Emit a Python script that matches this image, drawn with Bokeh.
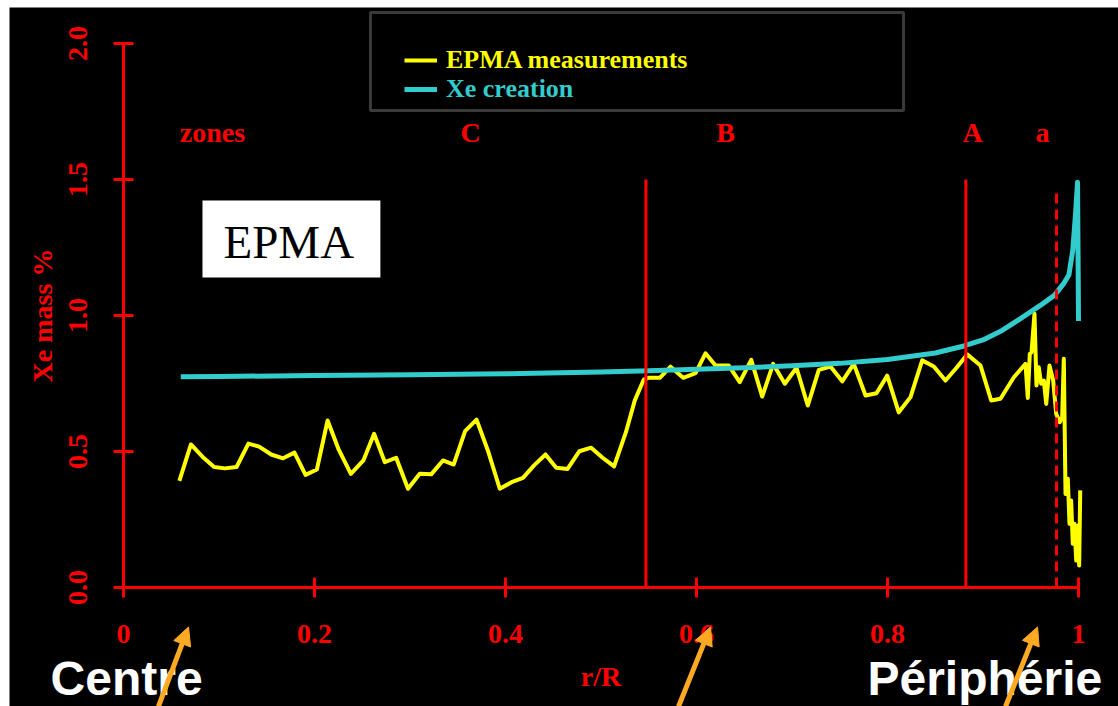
from bokeh.plotting import figure
from bokeh.models import (LinearAxis, FixedTicker, PrintfTickFormatter, Legend, LegendItem,
                          Label, BoxAnnotation, Arrow, NormalHead, Range1d)
from bokeh.embed import file_html
from bokeh.resources import INLINE

# ---- data ----
r_epma = [0.0585, 0.0706, 0.0829, 0.0949, 0.1061, 0.1184, 0.1308, 0.1420, 0.1547, 0.1670,
          0.1790, 0.1906, 0.2025, 0.2137, 0.2250, 0.2381, 0.2512, 0.2624, 0.2736, 0.2855,
          0.2979, 0.3102, 0.3222, 0.3345, 0.3457, 0.3577, 0.3697, 0.3821, 0.3940, 0.4064,
          0.4183, 0.4299, 0.4419, 0.4531, 0.4650, 0.4774, 0.4897, 0.5017, 0.5137, 0.5261,
          0.5354, 0.5447, 0.5496, 0.5616, 0.5728, 0.5861, 0.5990, 0.6094, 0.6199, 0.6338,
          0.6453, 0.6573, 0.6688, 0.6803, 0.6925, 0.7047, 0.7165, 0.7281, 0.7403, 0.7526,
          0.7647, 0.7770, 0.7885, 0.7997, 0.8118, 0.8241, 0.8363, 0.8485, 0.8607, 0.8723,
          0.8834, 0.8974, 0.9086, 0.9183, 0.9323, 0.9445, 0.9469, 0.9490, 0.9508, 0.9539,
          0.9560, 0.9584, 0.9609, 0.9637, 0.9662, 0.9696, 0.9735, 0.9766, 0.9804, 0.9829,
          0.9846, 0.9864, 0.9888, 0.9906, 0.9923, 0.9940, 0.9958, 0.9976, 0.9993, 1.0007,
          1.0018]
xe_epma = [0.392, 0.526, 0.480, 0.443, 0.438, 0.443, 0.529, 0.518, 0.489, 0.475,
           0.496, 0.414, 0.434, 0.614, 0.510, 0.418, 0.467, 0.565, 0.461, 0.477,
           0.363, 0.418, 0.416, 0.467, 0.452, 0.575, 0.617, 0.498, 0.363, 0.387,
           0.403, 0.449, 0.489, 0.440, 0.436, 0.501, 0.514, 0.477, 0.445, 0.571,
           0.688, 0.764, 0.771, 0.771, 0.812, 0.771, 0.788, 0.861, 0.816, 0.816,
           0.755, 0.837, 0.702, 0.822, 0.749, 0.808, 0.669, 0.800, 0.8125, 0.758,
           0.822, 0.706, 0.714, 0.779, 0.644, 0.700, 0.835, 0.8125, 0.761, 0.808,
           0.857, 0.816, 0.6875, 0.694, 0.773, 0.822, 0.697, 0.859, 0.865, 1.006,
           0.743, 0.810, 0.749, 0.761, 0.675, 0.816, 0.761, 0.639, 0.608, 0.626,
           0.841, 0.344, 0.400, 0.234, 0.320, 0.161, 0.234, 0.099, 0.228, 0.081,
           0.357]

r_calc = [0.06, 0.1, 0.2, 0.3, 0.4, 0.5, 0.55, 0.6, 0.65, 0.7, 0.75, 0.8, 0.85, 0.88,
          0.9, 0.92, 0.94, 0.96, 0.975, 0.985, 0.99, 0.994, 0.997, 0.999, 1.0]
xe_calc = [0.775, 0.776, 0.779, 0.782, 0.786, 0.792, 0.797, 0.802, 0.808, 0.815, 0.824,
           0.838, 0.862, 0.888, 0.91, 0.945, 0.99, 1.037, 1.075, 1.12, 1.15, 1.24, 1.38,
           1.49, 0.98]

zone_bounds_solid = [0.547, 0.882]
zone_bound_dashed = [0.977]
zone_names = ["zones", "C", "B", "A", "a"]
zone_name_x = [0.0932, 0.3634, 0.6304, 0.889, 0.9623]

x_ticks = [0, 0.2, 0.4, 0.6, 0.8, 1]
x_tick_labels = ["0", "0.2", "0.4", "0.6", "0.8", "1"]
y_ticks = [0, 0.5, 1.0, 1.5, 2.0]

RED = "#FF0000"
SERIF = "Liberation Serif"

p = figure(width=1118, height=706, output_backend="svg", toolbar_location=None,
           x_range=Range1d(-0.11937, 1.04188), y_range=Range1d(-0.4375, 2.13235),
           x_axis_type=None, y_axis_type=None,
           min_border_left=9, min_border_top=7, min_border_right=0, min_border_bottom=0,
           background_fill_color="black", border_fill_color="white")
p.outline_line_color = None
p.grid.visible = False

# axes at fixed data location
xaxis = LinearAxis(fixed_location=0, bounds=(0, 1), ticker=FixedTicker(ticks=x_ticks),
                   major_label_overrides={t: l for t, l in zip(x_ticks, x_tick_labels)},
                   axis_label="r/R")
yaxis = LinearAxis(fixed_location=0, bounds=(0, 2), ticker=FixedTicker(ticks=y_ticks),
                   formatter=PrintfTickFormatter(format="%.1f"), axis_label="Xe mass %",
                   major_label_orientation="parallel")
for ax in (xaxis, yaxis):
    ax.axis_line_color = RED
    ax.axis_line_width = 3
    ax.major_tick_line_color = RED
    ax.major_tick_line_width = 3
    ax.major_tick_in = 10
    ax.major_tick_out = 10
    ax.minor_tick_line_color = None
    ax.major_label_text_color = RED
    ax.major_label_text_font = SERIF
    ax.major_label_text_font_style = "bold"
    ax.major_label_text_font_size = "28px"
    ax.axis_label_text_color = RED
    ax.axis_label_text_font = SERIF
    ax.axis_label_text_font_style = "bold"
    ax.axis_label_text_font_size = "28px"
xaxis.major_label_standoff = 28
xaxis.axis_label_standoff = 14
yaxis.major_label_standoff = 26
yaxis.axis_label_standoff = 9
p.add_layout(xaxis, "below")
p.add_layout(yaxis, "left")

# data lines
yl = p.line(r_epma, xe_epma, line_color="#FFFF00", line_width=4, line_join="round")
cl = p.line(r_calc, xe_calc, line_color="#33CCCC", line_width=5, line_join="round")

# zone boundaries
p.segment(x0=zone_bounds_solid, x1=zone_bounds_solid, y0=[0] * 2, y1=[1.5] * 2,
          line_color=RED, line_width=3)
p.segment(x0=zone_bound_dashed, x1=zone_bound_dashed, y0=[0], y1=[1.467],
          line_color=RED, line_width=3, line_dash="10 6")

for name, zx in zip(zone_names, zone_name_x):
    p.add_layout(Label(x=zx, y=1.616, text=name, text_color=RED, text_font=SERIF,
                       text_font_style="bold", text_font_size="28px",
                       text_align="center", text_baseline="bottom"))

# EPMA box
p.add_layout(BoxAnnotation(left=0.0827, right=0.269, bottom=1.1397, top=1.4228,
                           fill_color="white", fill_alpha=1, line_color=None))
p.add_layout(Label(x=0.1047, y=1.1728, text="EPMA", text_color="black", text_font=SERIF,
                   text_font_size="47px", text_baseline="bottom"))

# legend frame
p.add_layout(BoxAnnotation(left=0.2586, right=0.8168, bottom=1.7537, top=2.1140,
                           fill_color="black", fill_alpha=1, line_color="#C0C0C0",
                           line_width=3))
for item, col, ly in (("EPMA measurements", "#FFFF00", 631), ("Xe creation", "#33CCCC", 602)):
    rend = yl if col == "#FFFF00" else cl
    lg = Legend(items=[LegendItem(label=item, renderers=[rend])], location=(395, ly),
                padding=0, margin=0, spacing=0, glyph_width=33, glyph_height=20,
                label_standoff=9, border_line_color=None, background_fill_alpha=0,
                label_text_color=col, label_text_font=SERIF, label_text_font_style="bold",
                label_text_font_size="26px")
    p.add_layout(lg)

# bottom texts and arrows
p.add_layout(Label(x=-0.0764, y=-0.4338, text="Centre", text_color="white",
                   text_font="Liberation Sans", text_font_style="bold", text_font_size="48px",
                   text_baseline="bottom"))
p.add_layout(Label(x=0.779, y=-0.4338, text="Périphérie", text_color="white",
                   text_font="Liberation Sans", text_font_style="bold", text_font_size="48px",
                   text_baseline="bottom"))
ORANGE = "#FFAA22"
for xs, xe in ((0.0366, 0.0681), (0.5812, 0.6147), (0.9236, 0.9571)):
    p.add_layout(Arrow(x_start=xs, y_start=-0.4375, x_end=xe, y_end=-0.145,
                       line_color=ORANGE, line_width=5,
                       end=NormalHead(size=18, fill_color=ORANGE, line_color=ORANGE)))

open("out.html", "w").write(file_html(p, INLINE))
